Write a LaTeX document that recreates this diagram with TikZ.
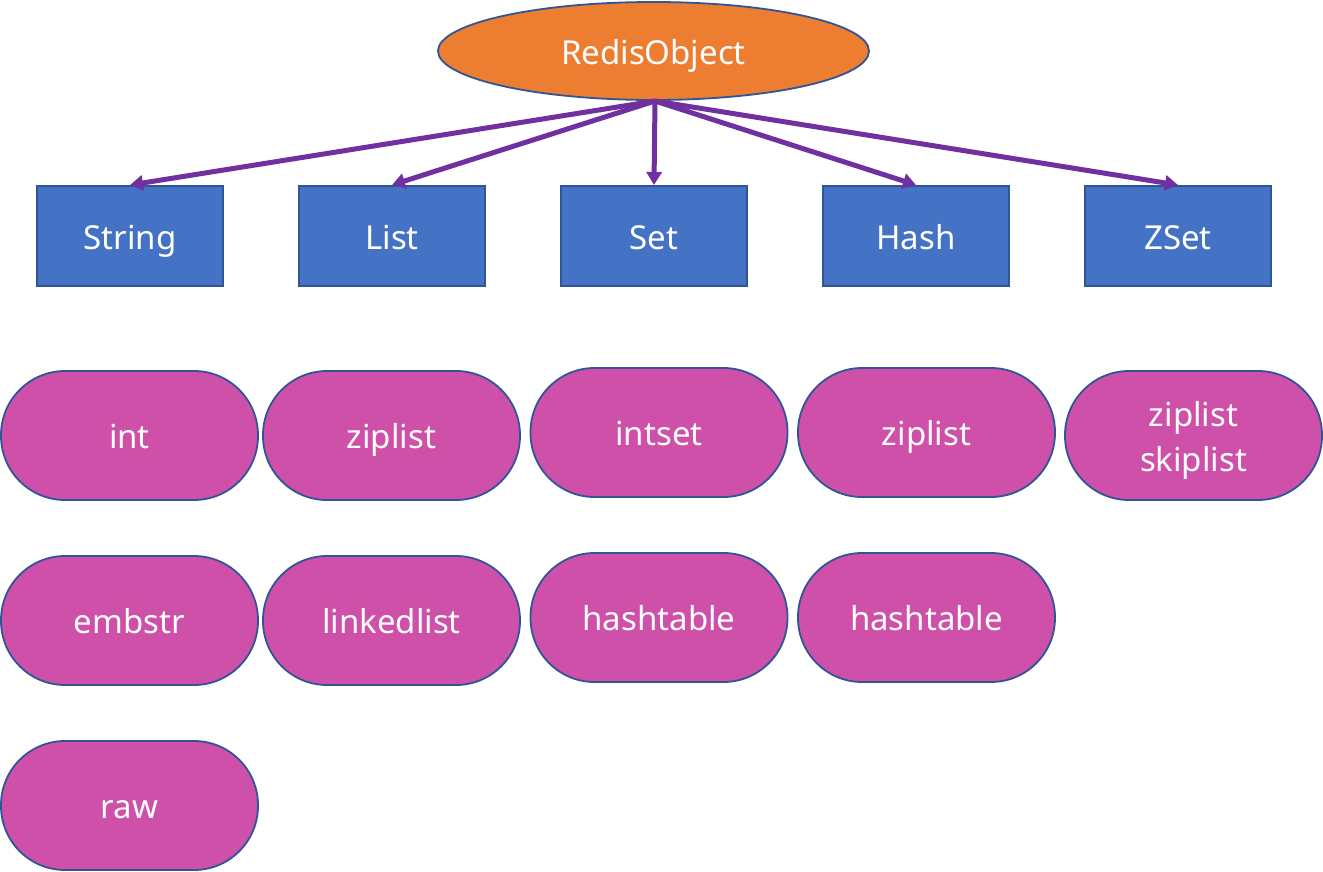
\documentclass[tikz,border=0pt]{standalone}
\usepackage{fontspec}
\setmainfont{Noto Sans}
\usetikzlibrary{shapes.geometric,arrows.meta}
\definecolor{orangefill}{HTML}{ED7D31}
\definecolor{bluefill}{HTML}{4472C4}
\definecolor{blueborder}{HTML}{2F5597}
\definecolor{pinkfill}{HTML}{CE50A8}
\definecolor{arrowpurple}{HTML}{7030A0}
\begin{document}
\begin{tikzpicture}[x=1pt,y=-1pt,
  txt/.style={text=white,font=\fontsize{33}{45}\selectfont,text height=30pt,text depth=4pt},
  rootnode/.style={ellipse,draw=blueborder,line width=1.8pt,fill=orangefill,minimum width=431pt,minimum height=98pt,inner sep=0pt,txt},
  typebox/.style={rectangle,draw=blueborder,line width=2pt,fill=bluefill,minimum width=186pt,minimum height=100pt,inner sep=0pt,txt},
  encpill/.style={rectangle,rounded corners=64pt,draw=blueborder,line width=1.8pt,fill=pinkfill,minimum width=257pt,minimum height=129pt,inner sep=0pt,txt,align=center},
  link/.style={draw=arrowpurple,line width=5pt,-{Triangle[length=13pt,width=15pt]}}]
\useasboundingbox (0,0) rectangle (1323,871);
\node[rootnode] (root) at (653.5,51) {RedisObject};
\coordinate (hub) at (655,101);
\node[typebox] (str) at (130,236) {String};
\node[typebox] (lst) at (392,236) {List};
\node[typebox] (set) at (654,236) {Set};
\node[typebox] (hsh) at (916,236) {Hash};
\node[typebox] (zst) at (1178,236) {ZSet};
\draw[link] (hub) -- (str.north);
\draw[link] (hub) -- (lst.north);
\draw[link] (hub) -- (set.north);
\draw[link] (hub) -- (hsh.north);
\draw[link] (hub) -- (zst.north);
\node[encpill] (sint) at (129.5,435.5) {int};
\node[encpill] (semb) at (129.5,620.5) {embstr};
\node[encpill] (sraw) at (129.5,805.5) {raw};
\node[encpill] (lzip) at (391.5,435.5) {ziplist};
\node[encpill] (llnk) at (391.5,620.5) {linkedlist};
\node[encpill] (sis) at (659,432.5) {intset};
\node[encpill] (sht) at (659,617.5) {hashtable};
\node[encpill] (hzip) at (926.5,432.5) {ziplist};
\node[encpill] (hht) at (926.5,617.5) {hashtable};
\node[encpill,text height=75pt,text depth=4pt] (zzs) at (1193.5,435.5) {ziplist\\skiplist};
\end{tikzpicture}
\end{document}
